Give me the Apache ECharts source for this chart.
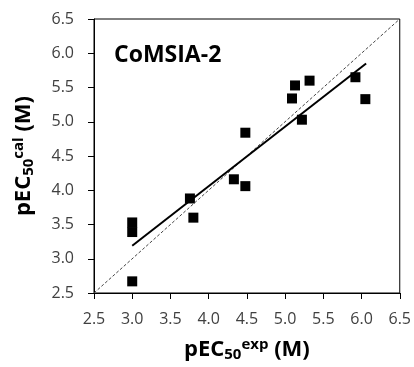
<!DOCTYPE html>
<html><head><meta charset="utf-8">
<script src="https://cdn.jsdelivr.net/npm/echarts@6/dist/echarts.min.js"></script>
<style>html,body{margin:0;padding:0;background:#fff}#c{width:414px;height:367px}</style>
</head><body><div id="c"></div>
<script>
const expValues = [3.0, 3.0, 3.0, 3.755, 3.80, 4.33, 4.48, 4.48, 5.09, 5.13, 5.32, 5.22, 5.92, 6.05];
const calValues = [3.53, 3.39, 2.67, 3.88, 3.60, 4.16, 4.06, 4.84, 5.34, 5.53, 5.60, 5.03, 5.65, 5.33];
const fitLine = [[3.0, 3.19], [6.06, 5.85]];
const identityLine = [[2.5, 2.5], [6.5, 6.5]];
const axisTicks = [2.5, 3.0, 3.5, 4.0, 4.5, 5.0, 5.5, 6.0, 6.5];
const panelLabel = 'CoMSIA-2';

const FONT = '"Open Sans", sans-serif';
const chart = echarts.init(document.getElementById('c'), null, {renderer: 'canvas'});
const axisCommon = {
  type: 'value', min: 2.5, max: 6.5, interval: 0.5,
  axisLine: {show: true, onZero: false, lineStyle: {color: '#000', width: 1}},
  axisTick: {show: true, inside: false, length: 6, lineStyle: {color: '#000'}},
  splitLine: {show: false},
  axisLabel: {color: '#404040', fontSize: 16, fontFamily: FONT, formatter: v => v.toFixed(1)},
  nameLocation: 'middle'
};
const nameRich = {
  a: {fontSize: 22, fontWeight: 'bold', fontFamily: FONT, color: '#000'},
  sub: {fontSize: 15, fontWeight: 'bold', fontFamily: FONT, color: '#000', padding: [10, 0, 0, 0]},
  sup: {fontSize: 15, fontWeight: 'bold', fontFamily: FONT, color: '#000', padding: [0, 0, 10, 0]}
};
chart.setOption({
  animation: false,
  grid: {left: 94, right: 14, top: 19, bottom: 70, containLabel: false,
         show: true, borderColor: '#000', borderWidth: 1},
  xAxis: Object.assign({}, axisCommon, {
    name: '{a|pEC}{sub|50}{sup|exp}{a| (M)}', nameGap: 44,
    nameTextStyle: {rich: nameRich},
    axisLabel: Object.assign({}, axisCommon.axisLabel, {margin: 18})
  }),
  yAxis: Object.assign({}, axisCommon, {
    name: '{a|pEC}{sub|50}{sup|cal}{a| (M)}', nameGap: 58, nameRotate: 90,
    nameTextStyle: {rich: nameRich},
    axisLabel: Object.assign({}, axisCommon.axisLabel, {margin: 20})
  }),
  graphic: [{
    type: 'text', left: 114, top: 44,
    style: {text: panelLabel, font: 'bold 23px ' + FONT, fill: '#000'}
  }],
  series: [
    {type: 'line', data: identityLine, symbol: 'none', silent: true,
     lineStyle: {color: '#444', width: 1, type: [3, 2]}},
    {type: 'line', data: fitLine, symbol: 'none', silent: true,
     lineStyle: {color: '#000', width: 2}},
    {type: 'scatter', data: expValues.map((x, i) => [x, calValues[i]]),
     symbol: 'rect', symbolSize: 10, itemStyle: {color: '#000', opacity: 1}}
  ]
});
</script></body></html>
